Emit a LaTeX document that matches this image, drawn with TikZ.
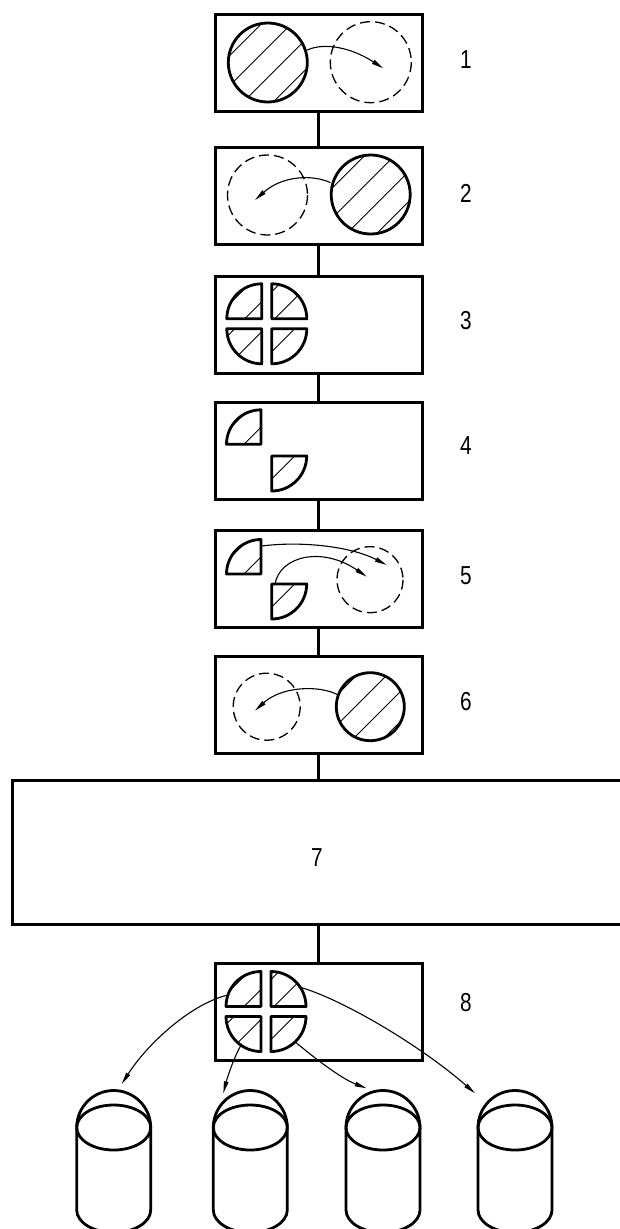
\documentclass[tikz,border=0pt]{standalone}
\usepackage{fontspec}
\setmainfont{Liberation Sans}
\usetikzlibrary{arrows.meta}
\tikzset{
  box/.style={draw, line width=3pt, minimum width=207pt, minimum height=97pt, inner sep=0pt},
  link/.style={line width=3pt},
  outl/.style={line width=2.8pt, line join=round},
  hatch/.style={line width=0.9pt},
  ghost/.style={line width=1.3pt, dash pattern=on 10pt off 5pt},
  move/.style={line width=1.1pt, -{Triangle[length=12pt,width=4.5pt]}},
  lab/.style={font=\fontsize{26}{26}\selectfont, inner sep=0pt},
}
\newcommand\narrow[1]{\scalebox{0.8}[1]{#1}}
\newcommand\qpath[5]{({#1},{#2}) -- ++(#4:#3) arc[start angle=#4, end angle=#5, radius=#3] -- cycle}
\newcommand\hq[7]{%
  \begin{scope}
    \clip \qpath{#1}{#2}{#3}{#4}{#5};
    \foreach \d in {-87,-57,-27,3,33,63,93}
      \draw[hatch] ({#6+\d/2-70},{#7+\d/2+70}) -- ++(140,-140);
  \end{scope}
  \draw[outl] \qpath{#1}{#2}{#3}{#4}{#5};
}
\newcommand\fourleaf[3]{%
  \hq{#1-5}{#2-5}{#3}{180}{270}{#1}{#2}
  \hq{#1+5}{#2-5}{#3}{270}{360}{#1}{#2}
  \hq{#1-5}{#2+5}{#3}{180}{90}{#1}{#2}
  \hq{#1+5}{#2+5}{#3}{0}{90}{#1}{#2}
}
\newcommand\hdisc[3]{%
  \begin{scope}
    \clip ({#1},{#2}) circle[radius=#3];
    \foreach \d in {-75,-45,-15,15,45,75}
      \draw[hatch] ({#1+\d/2-70},{#2+\d/2+70}) -- ++(140,-140);
  \end{scope}
  \draw[outl] ({#1},{#2}) circle[radius=#3];
}
\newcommand\can[1]{%
  \draw[outl] ({#1-37},1127.5) arc[start angle=180,end angle=360,radius=37];
  \draw[outl] ({#1},1127.5) ellipse[x radius=37,y radius=22.5];
  \draw[outl] ({#1-37},1127.5) -- ({#1-37},1210)
     arc[start angle=180,end angle=0,x radius=37,y radius=22.5] -- ({#1+37},1127.5);
}
\begin{document}
\begin{tikzpicture}[x=1pt,y=-1pt]
\useasboundingbox (0,0) rectangle (620,1229);

% boxes
\node[box] (b1) at (318.5,62.7) {};
\node[box] (b2) at (318.5,196) {};
\node[box] (b3) at (318.5,324.5) {};
\node[box] (b4) at (318.5,451) {};
\node[box] (b5) at (318.5,579.3) {};
\node[box] (b6) at (318.5,705) {};
\node[box, minimum width=628pt, minimum height=143.6pt] (b7) at (326,852.5) {};
\node[box] (b8) at (318.5,1011.7) {};

% connectors
\draw[link] (b1.south) -- (b2.north);
\draw[link] (b2.south) -- (b3.north);
\draw[link] (b3.south) -- (b4.north);
\draw[link] (b4.south) -- (b5.north);
\draw[link] (b5.south) -- (b6.north);
\draw[link] (b6.south) -- (b6.south |- b7.north);
\draw[link] (b8.north |- b7.south) -- (b8.north);

% labels
\node[lab] (l1) at (466,60) {\narrow{1}};
\node[lab] (l2) at (466,193) {\narrow{2}};
\node[lab] (l3) at (466,321) {\narrow{3}};
\node[lab] (l4) at (466,446) {\narrow{4}};
\node[lab] (l5) at (466,576) {\narrow{5}};
\node[lab] (l6) at (466,702) {\narrow{6}};
\node[lab] (l7) at (317,858) {\narrow{7}};
\node[lab] (l8) at (466,1003) {\narrow{8}};

% box 1
\hdisc{267.8}{62.5}{39.5}
\draw[ghost] (370.8,62.2) circle[radius=40.5];
\coordinate (a1s) at (307.3,50);
\coordinate (a1e) at (383.3,68.3);
\draw[move] (a1s) .. controls (325,42) and (352,48) .. (a1e);

% box 2
\hdisc{370.7}{194.5}{39.5}
\draw[ghost] (267.5,195) circle[radius=40];
\coordinate (a2s) at (330.5,182.7);
\coordinate (a2e) at (255,200);
\draw[move] (a2s) .. controls (312,174) and (282,176) .. (a2e);

% box 3
\fourleaf{266.8}{323.8}{35}

% box 4
\hq{261}{444.3}{34.5}{180}{270}{266}{449.3}
\hq{271.7}{456}{35}{0}{90}{266.7}{451}

% box 5
\hq{261}{574}{34.5}{180}{270}{266}{579}
\hq{271.7}{584}{35}{0}{90}{266.7}{579}
\draw[ghost] (370,579.7) circle[radius=33];
\coordinate (a5s) at (261.7,546);
\coordinate (a5e) at (386.7,565);
\draw[move] (a5s) .. controls (300,541) and (350,546) .. (a5e);
\coordinate (a6s) at (275,584);
\coordinate (a6e) at (366.7,576.7);
\draw[move] (a6s) .. controls (280,556) and (322,546) .. (a6e);

% box 6
\hdisc{370.3}{706.7}{34}
\draw[ghost] (266.7,706.7) circle[radius=33.5];
\coordinate (a7s) at (338.3,695);
\coordinate (a7e) at (255,710.7);
\draw[move] (a7s) .. controls (320,685) and (282,686) .. (a7e);

% box 8
\fourleaf{266}{1011.5}{35}
\coordinate (c1) at (121.7,1084);
\coordinate (c2) at (223.3,1093.3);
\coordinate (c3) at (366.7,1088.3);
\coordinate (c4) at (475,1093.3);
\draw[move] (228.3,995) .. controls (195,1002) and (150,1040) .. (c1);
\draw[move] (241.7,1044) .. controls (235,1055) and (228,1075) .. (c2);
\draw[move] (295,1041.7) .. controls (312,1056) and (340,1078) .. (c3);
\draw[move] (298.3,986.7) .. controls (340,998) and (420,1045) .. (c4);

% containers
\can{113.7}
\can{250.3}
\can{383}
\can{515}
\end{tikzpicture}
\end{document}
